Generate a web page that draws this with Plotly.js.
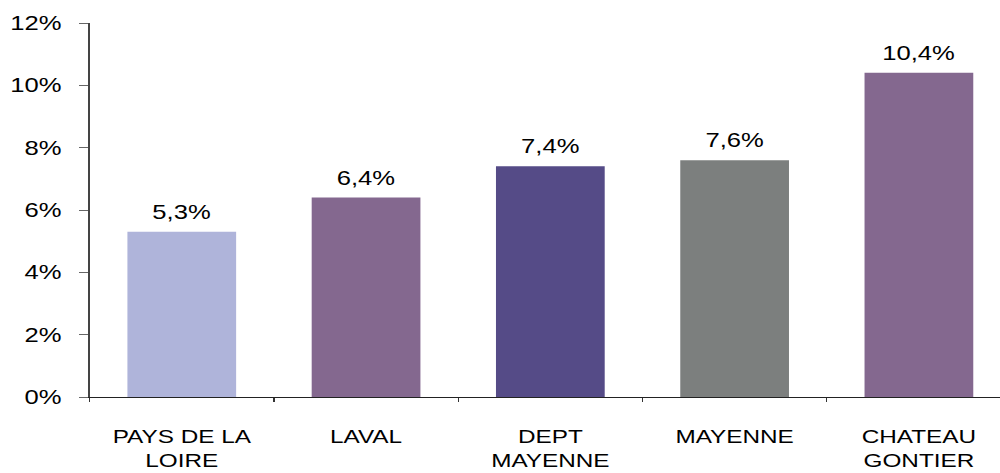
<!DOCTYPE html>
<html>
<head>
<meta charset="utf-8">
<script src="https://cdn.plot.ly/plotly-3.0.1.min.js"></script>
<style>
html,body{margin:0;padding:0;background:#fff;overflow:hidden;}
#wrap{width:1000px;height:473px;overflow:hidden;}
#chart{width:781px;height:473px;transform:scaleX(1.2804);transform-origin:0 0;}
</style>
</head>
<body>
<div id="wrap"><div id="chart"></div></div>
<script>
var categories = ["PAYS DE LA<br>LOIRE", "LAVAL", "DEPT<br>MAYENNE", "MAYENNE", "CHATEAU<br>GONTIER"];
var values = [5.3, 6.4, 7.4, 7.6, 10.4];
var valueLabels = ["5,3%", "6,4%", "7,4%", "7,6%", "10,4%"];
var barColors = ["#AFB4DA", "#84688F", "#554B87", "#7C7F7E", "#84688F"];
var yTickVals = [0, 2, 4, 6, 8, 10, 12];
var yTickText = ["0%", "2%", "4%", "6%", "8%", "10%", "12%"];

var font = "Liberation Sans, Arial, sans-serif";

var trace = {
  type: "bar",
  x: categories,
  y: values,
  width: 0.59,
  marker: {color: barColors, line: {width: 0}},
  hoverinfo: "none"
};

var annotations = categories.map(function (c, i) {
  return {
    x: c, y: values[i], xref: "x", yref: "y",
    text: valueLabels[i], showarrow: false,
    yanchor: "bottom", yshift: 7,
    font: {family: font, size: 20, color: "#000"}
  };
});

var layout = {
  width: 781, height: 473,
  margin: {l: 70, r: 0, t: 23, b: 76, pad: 0},
  paper_bgcolor: "#fff", plot_bgcolor: "#fff",
  showlegend: false,
  font: {family: font, color: "#000"},
  xaxis: {
    type: "category",
    range: [-0.5, 4.44],
    showline: true, linecolor: "#222", linewidth: 1,
    ticks: "outside", tickson: "boundaries", ticklen: 4, tickcolor: "#333",
    tickfont: {family: font, size: 19, color: "#000"},
    ticklabelstandoff: 22,
    showgrid: false, zeroline: false, fixedrange: true
  },
  yaxis: {
    range: [0, 12],
    tickvals: yTickVals, ticktext: yTickText,
    showline: true, linecolor: "#444", linewidth: 1,
    ticks: "outside", ticklen: 7, tickcolor: "#666",
    tickfont: {family: font, size: 20, color: "#000"},
    ticklabelstandoff: 10,
    showgrid: false, zeroline: false, fixedrange: true
  },
  annotations: annotations
};

Plotly.newPlot("chart", [trace], layout, {displayModeBar: false, staticPlot: true});
</script>
</body>
</html>
